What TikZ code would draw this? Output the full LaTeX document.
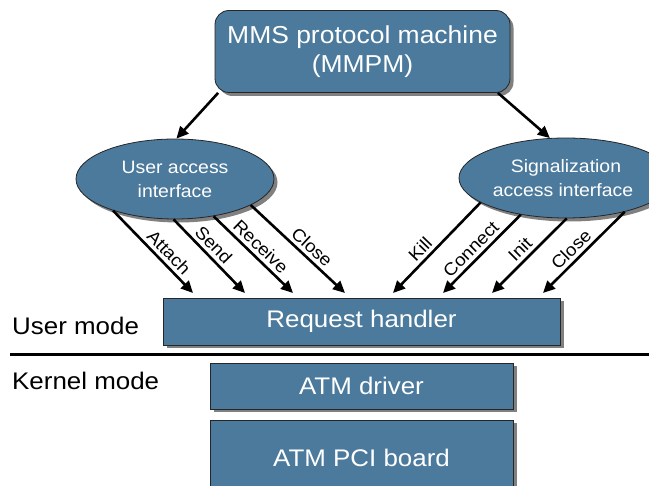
\documentclass[tikz,border=0pt]{standalone}
\usepackage{fontspec}
\setmainfont{Liberation Sans}[FakeStretch=1.08]
\usetikzlibrary{arrows.meta,shadows,shapes.geometric,calc}
\definecolor{boxblue}{RGB}{75,122,156}
\definecolor{shadowgray}{RGB}{128,128,128}
\begin{document}
\begin{tikzpicture}[x=1pt,y=-1pt,
  blk/.style={draw=black!85, line width=0.8pt, fill=boxblue, text=white, inner sep=0pt,
    align=center,
    drop shadow={shadow xshift=3.5pt, shadow yshift=-3.5pt, fill=shadowgray, opacity=1}},
  bigtext/.style={font=\fontsize{24}{29.5}\selectfont},
  elltext/.style={font=\fontsize{18}{24}\selectfont},
  arr/.style={line width=2.6pt, -{Triangle[length=12pt,width=11pt]}},
  lbl/.style={font=\fontsize{17.5}{19}\selectfont, sloped, above=2.5pt, inner sep=1pt, text=black},
  modetext/.style={font=\fontsize{24}{28}\selectfont, anchor=base west, inner sep=0pt, text=black}
]
\useasboundingbox (0,0) rectangle (649,486);
\clip (0,0) rectangle (649,486);

% nodes
\node[blk, font=\fontsize{24.5}{29.5}\selectfont, rounded corners=14pt, minimum width=295pt, minimum height=82pt]
  (mm) at (362.5,51.5) {MMS protocol machine\\(MMPM)};
\node[blk, elltext, ellipse, minimum width=198pt, minimum height=80pt]
  (ua) at (175,179) {User access\\interface};
\node[blk, elltext, ellipse, minimum width=214pt, minimum height=80pt]
  (sa) at (566,178) {Signalization\\access interface\hspace*{6pt}};
\node[blk, bigtext, minimum width=397pt, minimum height=47pt]
  (rh) at (361.5,321.5) {Request handler};
\node[blk, bigtext, minimum width=303pt, minimum height=46pt]
  (ad) at (361.5,386) {ATM driver};
\node[blk, bigtext, minimum width=303pt, minimum height=75pt]
  (pci) at (361.5,457.5) {ATM PCI board};

\node[modetext] (um) at (12,335) {User mode};
\node[modetext] (km) at (12,390) {Kernel mode};

% separator
\coordinate (sepL) at (10,354.5);
\coordinate (sepR) at (649,354.5);
\draw[line width=3.5pt] (sepL) -- (sepR);

% arrow tips above the request handler
\coordinate (t1) at (193,293);
\coordinate (t2) at (245,293);
\coordinate (t3) at (293,293);
\coordinate (t4) at (345,293);
\coordinate (t5) at (393,293);
\coordinate (t6) at (443,293);
\coordinate (t7) at (492,293);
\coordinate (t8) at (543,293);

% connectors
\draw[arr] (mm.196.6) -- (ua.88);
\draw[arr] (mm.343.8) -- (sa.112);

\draw[arr] (ua.207) -- node[lbl, pos=0.6] (l1) {Attach} (t1);
\draw[arr] (ua.268) -- node[lbl, pos=0.45] (l2) {Send} (t2);
\draw[arr] (ua.316) -- node[lbl, pos=0.5] (l3) {Receive} (t3);
\draw[arr] (ua.341) -- node[lbl, pos=0.57] (l4) {Close} (t4);

\draw[arr] (sa.196.8) -- node[lbl, pos=0.6] (l5) {Kill} (t5);
\draw[arr] (sa.219.3) -- node[lbl, pos=0.54] (l6) {Connect} (t6);
\draw[arr] (sa.271.4) -- node[lbl, pos=0.52] (l7) {Init} (t7);
\draw[arr] (sa.330.2) -- node[lbl, pos=0.56] (l8) {Close} (t8);
\end{tikzpicture}
\end{document}
